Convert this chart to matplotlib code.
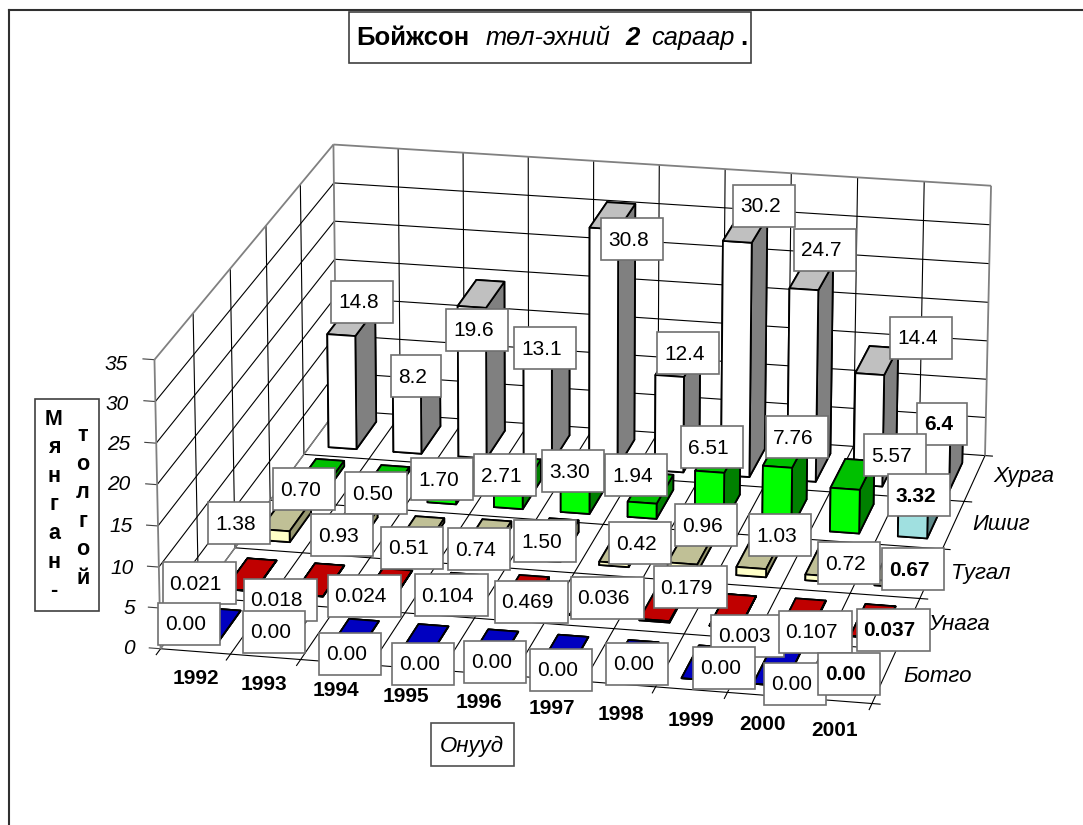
import numpy as np
import matplotlib
matplotlib.use("Agg")
import matplotlib.pyplot as plt
from matplotlib.patches import Rectangle

plt.rcParams["font.family"] = ["Liberation Sans", "DejaVu Sans"]

W, H = 1083, 825

# ======================================================
# DATA
# ======================================================
years = ["1992", "1993", "1994", "1995", "1996", "1997", "1998", "1999", "2000", "2001"]
series_names = ["Ботго", "Унага", "Тугал", "Ишиг", "Хурга"]
z_ticks = [0, 5, 10, 15, 20, 25, 30, 35]

botgo = [0.00, 0.00, 0.00, 0.00, 0.00, 0.00, 0.00, 0.00, 0.00, 0.00]
unaga = [0.021, 0.018, 0.024, 0.104, 0.469, 0.036, 0.179, 0.003, 0.107, 0.037]
tugal = [1.38, 0.93, 0.51, 0.74, 1.50, 0.42, 0.96, 1.03, 0.72, 0.67]
ishig = [0.70, 0.50, 1.70, 2.71, 3.30, 1.94, 6.51, 7.76, 5.57, 3.32]
khurga = [14.8, 8.2, 19.6, 13.1, 30.8, 12.4, 30.2, 24.7, 14.4, 6.4]

series_values = [botgo, unaga, tugal, ishig, khurga]
series_formats = ["{:.2f}", "{:.3f}", "{:.2f}", "{:.2f}", "{:.1f}"]

# colours per series: front, top, side (the flat rows use one colour all round)
series_colors = [
    ("#0000c0", "#0000c0", "#0000c0"),
    ("#c00000", "#c00000", "#c00000"),
    ("#ffffc8", "#c0c096", "#96966e"),
    ("#00ff00", "#00c000", "#008000"),
    ("#ffffff", "#c0c0c0", "#808080"),
]
last_ishig_colors = ("#a0e0e0", "#a0e0e0", "#5f8a8a")

# data label centres in picture pixels (the labels were dragged by hand)
label_px = [
    [(189, 624), (274, 632), (350, 654), (423, 664), (495, 662),
     (561, 670), (637, 664), (724, 668), (795, 684), (849, 674)],
    [(199, 583), (280, 600), (364, 596), (451, 595), (531, 602),
     (607, 598), (690, 587), (748, 636), (815, 632), (893, 630)],
    [(239, 523), (342, 535), (412, 548), (479, 549), (545, 541),
     (640, 543), (706, 525), (780, 535), (849, 563), (913, 569)],
    [(304, 489), (376, 493), (442, 479), (505, 475), (573, 471),
     (636, 475), (712, 447), (797, 437), (895, 455), (919, 495)],
    [(362, 302), (416, 376), (477, 330), (545, 348), (632, 239),
     (688, 353), (764, 206), (825, 250), (921, 338), (942, 424)],
]
box_width = {3: 50, 4: 62, 5: 73}
box_height = 42

year_px = [(196, 678), (264, 684), (336, 691), (406, 697), (479, 703),
           (552, 708), (621, 714), (691, 720), (763, 724), (835, 731)]
series_px = [(938, 677), (959, 625), (981, 573), (1001, 525), (1024, 476)]
z_label_x = [135, 135, 134, 133, 130, 130, 129, 128]
z_label_y = [648, 608, 568, 527, 485, 444, 404, 365]

# where the corners of the chart box sit in the picture: (x, y, z) -> (px, py)
nx, ny, nz = len(years), len(series_names), z_ticks[-1]
corner_world = [(0, 0, 0), (nx, 0, 0), (nx, ny, 0), (0, ny, 0),
                (0, 0, nz), (0, ny, nz), (nx, ny, nz)]
corner_px = [(160, 647), (872, 705), (985, 453), (337, 413),
             (155, 360), (333, 143), (991, 187)]


def fx(px):
    return px / W


def fy(py):
    return 1 - py / H


fig = plt.figure(figsize=(W / 100, H / 100), dpi=100, facecolor="white")
# oversized so the square 3d axes covers the whole figure
ax = fig.add_axes([-0.2, -0.2, 1.4, 1.4], projection="3d")
ax.set_axis_off()
ax.computed_zorder = False
ax.apply_aspect()


def fitted_projection():
    """Camera matrix fitted to the box corners, Excel's perspective is not a mpl view."""
    inv = ax.transData.inverted()
    A, b = [], []
    for (X, Y, Z), (px, py) in zip(corner_world, corner_px):
        u, v = inv.transform((px, H - py))
        A.append([X, Y, Z, 1, 0, 0, 0, 0, -u * X, -u * Y, -u * Z])
        b.append(u)
        A.append([0, 0, 0, 0, X, Y, Z, 1, -v * X, -v * Y, -v * Z])
        b.append(v)
    p = np.linalg.lstsq(np.array(A), np.array(b), rcond=None)[0]
    return np.array([
        [p[0], p[1], p[2], p[3]],
        [p[4], p[5], p[6], p[7]],
        [0, 0, 0, -1],
        [p[8], p[9], p[10], 1],
    ])


M = fitted_projection()
ax.get_proj = lambda: M


def wall_line(xs, ys, zs, color="black", lw=0.8):
    ax.plot(xs, ys, zs, color=color, lw=lw, zorder=1, solid_capstyle="butt")


# ------------------------------------------------------
# walls and floor
# ------------------------------------------------------
for z in z_ticks[1:-1]:
    wall_line([0, 0], [0, ny], [z, z])
    wall_line([0, nx], [ny, ny], [z, z])
for x in range(1, nx):
    wall_line([x, x], [ny, ny], [0, nz])
for y in range(1, ny):
    wall_line([0, 0], [y, y], [0, nz])

for x in range(nx + 1):
    wall_line([x, x], [-0.12, ny], [0, 0])
for y in range(ny + 1):
    wall_line([0, nx + 0.12], [y, y], [0, 0])
for z in z_ticks:
    wall_line([-0.17, 0], [0, 0], [z, z], color="#404040")

grey = "#808080"
wall_line([0, 0], [0, 0], [0, nz], color=grey, lw=1.3)
wall_line([0, 0], [ny, ny], [0, nz], color=grey, lw=1.3)
wall_line([nx, nx], [ny, ny], [0, nz], color=grey, lw=1.3)
wall_line([0, 0], [0, ny], [nz, nz], color=grey, lw=1.3)
wall_line([0, nx], [ny, ny], [nz, nz], color=grey, lw=1.3)
wall_line([0, 0], [ny, 0], [0, 0], color=grey, lw=1.0)

# ------------------------------------------------------
# bars, back row first
# ------------------------------------------------------
bar_dx, bar_dy = 0.43, 0.62
order = 10
for r in range(ny - 1, -1, -1):
    for i in range(nx):
        front, top, side = series_colors[r]
        if r == 3 and i == nx - 1:
            front, top, side = last_ishig_colors
        # bar3d face order: bottom, top, front, back, left, right
        ax.bar3d(i + (1 - bar_dx) / 2, r + (1 - bar_dy) / 2, 0,
                 bar_dx, bar_dy, series_values[r][i],
                 color=[side, top, front, side, side, side],
                 edgecolor="black", linewidth=1.3, shade=False, zorder=order)
        order += 1

# ------------------------------------------------------
# text
# ------------------------------------------------------
for k, z in enumerate(z_ticks):
    fig.text(fx(z_label_x[k]), fy(z_label_y[k]), str(z), style="italic", fontsize=15,
             ha="right", va="center")
for name, (px, py) in zip(years, year_px):
    fig.text(fx(px), fy(py), name, weight="bold", fontsize=15, ha="center", va="center")
for name, (px, py) in zip(series_names, series_px):
    fig.text(fx(px), fy(py), name, style="italic", fontsize=16, ha="center", va="center")

# data labels: fixed-size box with the text sitting left in it, back row first
layer = 5.0
for r in range(ny - 1, -1, -1):
    for i in range(nx):
        px, py = label_px[r][i]
        txt = series_formats[r].format(series_values[r][i])
        bw = box_width[len(txt)]
        fig.add_artist(Rectangle((fx(px - bw / 2), fy(py + box_height / 2)), bw / W, box_height / H,
                                 transform=fig.transFigure, fc="white", ec="#707070", lw=1.2,
                                 zorder=layer))
        fig.text(fx(px - bw / 2 + 7), fy(py + 1), txt, fontsize=15, ha="left", va="center",
                 weight="bold" if i == nx - 1 else "normal", zorder=layer + 0.001)
        layer += 0.01

fig.add_artist(Rectangle((fx(431), fy(766)), 83 / W, 43 / H, transform=fig.transFigure,
                         fc="white", ec="#505050", lw=1.2, zorder=6))
fig.text(fx(472), fy(746), "Онууд", style="italic", fontsize=16, ha="center", va="center", zorder=7)

# border, title box and axis title box
fig.add_artist(plt.Line2D([fx(9), fx(9)], [fy(10), 0], color="#303030", lw=1.5))
fig.add_artist(plt.Line2D([fx(9), 1], [fy(10), fy(10)], color="#303030", lw=1.5))
fig.add_artist(Rectangle((fx(349), fy(63)), 402 / W, 51 / H, transform=fig.transFigure,
                         fc="white", ec="#404040", lw=1.2, zorder=6))
fig.add_artist(Rectangle((fx(35), fy(611)), 64 / W, 212 / H, transform=fig.transFigure,
                         fc="white", ec="#404040", lw=1.2, zorder=6))

title_y = fy(38)
fig.text(fx(356), title_y, "Бойжсон", weight="bold", fontsize=18.5, va="center", zorder=7)
fig.text(fx(486), title_y, "төл-эхний", style="italic", fontsize=18.3, va="center", zorder=7)
fig.text(fx(625), title_y, "2", style="italic", weight="bold", fontsize=18.5, va="center", zorder=7)
fig.text(fx(651), title_y, "сараар", style="italic", fontsize=18.3, va="center", zorder=7)
fig.text(fx(740), title_y, ".", weight="bold", fontsize=18.5, va="center", zorder=7)

fig.text(fx(54), fy(505), "М\nя\nн\nг\nа\nн\n-", weight="bold", fontsize=15.5, ha="center",
         va="center", linespacing=1.47, zorder=7)
fig.text(fx(83), fy(507), "т\nо\nл\nг\nо\nй", weight="bold", fontsize=15.5, ha="center",
         va="center", linespacing=1.47, zorder=7)

fig.savefig("out.png", dpi=100, facecolor="white")
